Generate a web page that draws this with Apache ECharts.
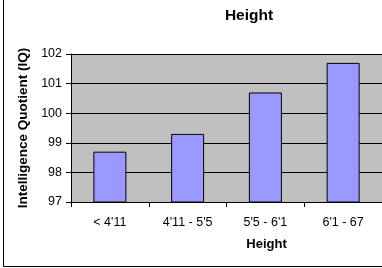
<!DOCTYPE html>
<html><head><meta charset="utf-8">
<script src="https://cdn.jsdelivr.net/npm/echarts@6/dist/echarts.min.js"></script>
<style>html,body{margin:0;padding:0;background:#fff}#c{width:382px;height:268px}</style>
</head><body><div id="c"></div>
<script>
var categories = ["< 4'11", "4'11 - 5'5", "5'5 - 6'1", "6'1 - 67"];
var iqValues = [98.7, 99.3, 100.7, 101.7];
var yTicks = { min: 97, max: 102, interval: 1 };

var chart = echarts.init(document.getElementById('c'), null, {renderer: 'canvas'});
var font = 'Liberation Sans, Arial, sans-serif';
chart.setOption({
  animation: false,
  backgroundColor: '#fff',
  title: {
    text: 'Height', left: 244, top: 3, textAlign: 'center',
    textStyle: {fontFamily: font, fontSize: 15.5, fontWeight: 'bold', color: '#000'}
  },
  grid: {left: 71, top: 54, width: 322, height: 148, show: true, backgroundColor: '#c0c0c0', borderWidth: 0},
  xAxis: {
    type: 'category', data: categories,
    name: 'Height', nameLocation: 'middle', nameGap: 36,
    nameTextStyle: {fontFamily: font, fontSize: 13, fontWeight: 'bold', color: '#000', padding: [0, 0, 0, 80]},
    axisLine: {lineStyle: {color: '#000', width: 1}},
    axisTick: {show: true, length: 5, lineStyle: {color: '#000'}, alignWithLabel: false},
    axisLabel: {fontFamily: font, fontSize: 12.5, color: '#000', margin: 14}
  },
  yAxis: {
    type: 'value', min: yTicks.min, max: yTicks.max, interval: yTicks.interval,
    name: 'Intelligence Quotient (IQ)', nameLocation: 'middle', nameGap: 38, nameRotate: 90,
    nameTextStyle: {fontFamily: font, fontSize: 13.5, fontWeight: 'bold', color: '#000'},
    axisLine: {show: true, lineStyle: {color: '#000', width: 1}},
    axisTick: {show: true, length: 5, lineStyle: {color: '#000'}},
    axisLabel: {fontFamily: font, fontSize: 12.5, color: '#000', margin: 9},
    splitLine: {show: true, lineStyle: {color: '#000', width: 1}}
  },
  series: [{
    type: 'bar', data: iqValues, barWidth: 33,
    itemStyle: {color: '#9999ff', borderColor: '#000', borderWidth: 1}
  }],
  graphic: [{
    type: 'rect', silent: true, z: 100,
    shape: {x: 3.5, y: -10, width: 400, height: 276.5},
    style: {fill: 'none', stroke: '#000', lineWidth: 1}
  }]
});
</script></body></html>
